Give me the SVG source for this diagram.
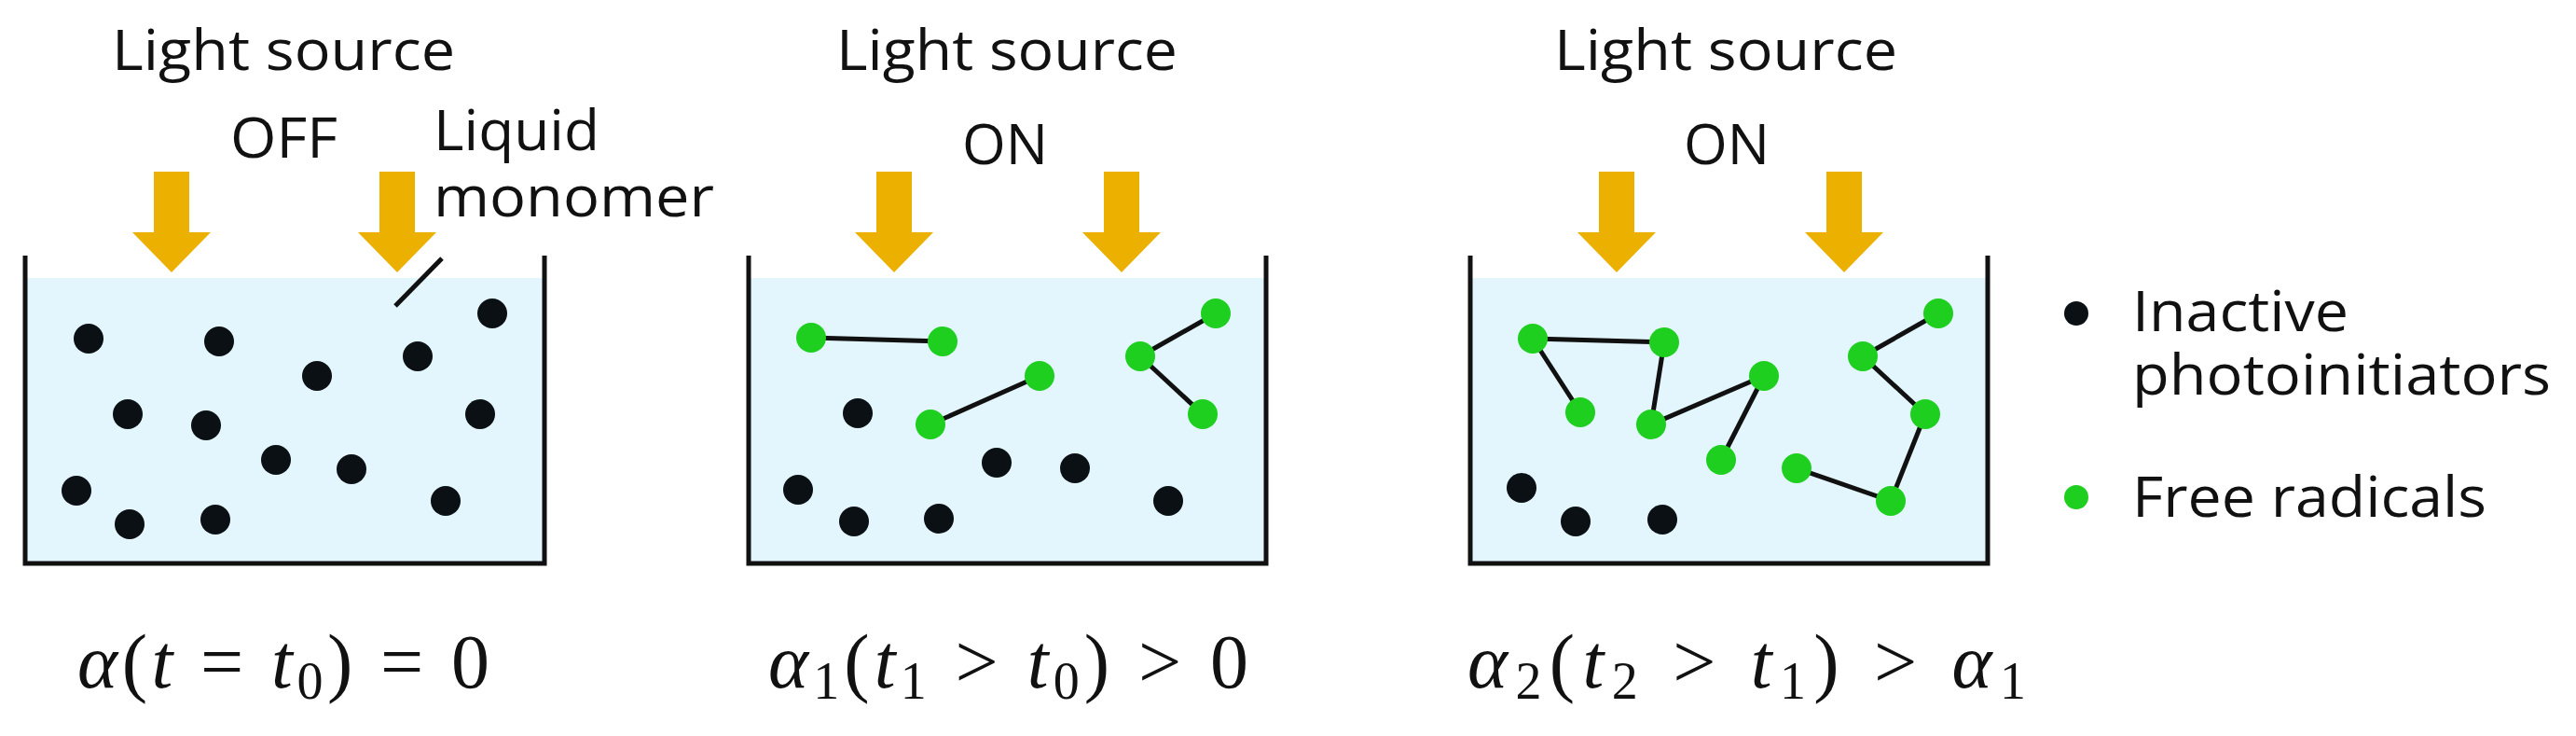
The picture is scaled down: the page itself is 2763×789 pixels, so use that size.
<svg xmlns="http://www.w3.org/2000/svg" width="2763" height="789" viewBox="0 0 2763 789">
<style>
.lbl{font-family:"Open Sans","Liberation Sans",sans-serif;font-size:60px;fill:#111}
.math{font-family:"Liberation Serif","DejaVu Serif",serif;font-size:82px;fill:#111}
.it{font-style:italic}
.sub{font-size:56px}
.liq{fill:#e3f6fd}
.wall{fill:none;stroke:#111;stroke-width:5}
.arr{fill:#ebb000}
.blk{fill:#0b1014}
.grn{fill:#1fcf1f}
.bond{stroke:#111;stroke-width:5}
</style>
<defs>
<path id="arrow" d="M-19,-108 H19 V-43 H42 L0,0 L-42,-43 H-19 Z"/>
<circle id="bd" r="16"/>
</defs>
<g id="panel1">
<rect class="liq" x="28" y="298" width="555" height="306"/>
<path class="wall" d="M27,274 V604 H584 V274"/>
<use href="#arrow" class="arr" x="184" y="292"/>
<use href="#arrow" class="arr" x="426" y="292"/>
<text class="lbl" x="120" y="75" textLength="368" lengthAdjust="spacingAndGlyphs">Light source</text>
<text class="lbl" x="247" y="169" textLength="115" lengthAdjust="spacingAndGlyphs">OFF</text>
<text class="lbl" x="465" y="161" textLength="178" lengthAdjust="spacingAndGlyphs">Liquid</text>
<text class="lbl" x="465" y="232" textLength="301" lengthAdjust="spacingAndGlyphs">monomer</text>
<line class="bond" x1="474" y1="277" x2="424" y2="328"/>
<g class="blk">
<use href="#bd" x="95" y="363"/><use href="#bd" x="235" y="366"/><use href="#bd" x="340" y="403"/><use href="#bd" x="448" y="382"/><use href="#bd" x="528" y="336"/>
<use href="#bd" x="137" y="444"/><use href="#bd" x="221" y="456"/><use href="#bd" x="515" y="444"/><use href="#bd" x="296" y="493"/><use href="#bd" x="377" y="503"/>
<use href="#bd" x="82" y="526"/><use href="#bd" x="139" y="562"/><use href="#bd" x="231" y="557"/><use href="#bd" x="478" y="537"/>
</g>
<text class="math" x="83" y="737" textLength="442"><tspan class="it">α</tspan>(<tspan class="it">t</tspan> = <tspan class="it">t</tspan><tspan class="sub" dy="12">0</tspan><tspan dy="-12">) = 0</tspan></text>
</g>
<g id="panel2">
<rect class="liq" x="805" y="298" width="551" height="306"/>
<path class="wall" d="M803,274 V604 H1358 V274"/>
<use href="#arrow" class="arr" x="959" y="292"/>
<use href="#arrow" class="arr" x="1203" y="292"/>
<text class="lbl" x="897" y="75" textLength="366" lengthAdjust="spacingAndGlyphs">Light source</text>
<text class="lbl" x="1032" y="176" textLength="92" lengthAdjust="spacingAndGlyphs">ON</text>
<g class="blk">
<use href="#bd" x="920" y="443"/><use href="#bd" x="1069" y="496"/><use href="#bd" x="1153" y="502"/><use href="#bd" x="1253" y="537"/>
<use href="#bd" x="916" y="559"/><use href="#bd" x="1007" y="556"/><use href="#bd" x="856" y="525"/>
</g>
<text class="math" x="824" y="737" textLength="515"><tspan class="it">α</tspan><tspan class="sub" dy="12">1</tspan><tspan dy="-12">(</tspan><tspan class="it">t</tspan><tspan class="sub" dy="12">1</tspan><tspan dy="-12"> &gt; </tspan><tspan class="it">t</tspan><tspan class="sub" dy="12">0</tspan><tspan dy="-12">) &gt; 0</tspan></text>
</g>
<g id="panel3">
<rect class="liq" x="1579" y="298" width="551" height="306"/>
<path class="wall" d="M1577,274 V604 H2132 V274"/>
<use href="#arrow" class="arr" x="1734" y="292"/>
<use href="#arrow" class="arr" x="1978" y="292"/>
<text class="lbl" x="1667" y="75" textLength="368" lengthAdjust="spacingAndGlyphs">Light source</text>
<text class="lbl" x="1806" y="176" textLength="92" lengthAdjust="spacingAndGlyphs">ON</text>
<g class="blk">
<use href="#bd" x="1632" y="523"/><use href="#bd" x="1690" y="559"/><use href="#bd" x="1783" y="557"/>
</g>
<text class="math" x="1574" y="737" textLength="599"><tspan class="it">α</tspan><tspan class="sub" dy="12">2</tspan><tspan dy="-12">(</tspan><tspan class="it">t</tspan><tspan class="sub" dy="12">2</tspan><tspan dy="-12"> &gt; </tspan><tspan class="it">t</tspan><tspan class="sub" dy="12">1</tspan><tspan dy="-12">) &gt; </tspan><tspan class="it">α</tspan><tspan class="sub" dy="12">1</tspan></text>
</g>
<g id="connectors">
<g class="bond">
<line x1="870" y1="362" x2="1011" y2="366"/><line x1="998" y1="455" x2="1115" y2="403"/>
<line x1="1223" y1="382" x2="1304" y2="336"/><line x1="1223" y1="382" x2="1290" y2="444"/>
<line x1="1644" y1="363" x2="1785" y2="367"/><line x1="1644" y1="363" x2="1695" y2="442"/>
<line x1="1785" y1="367" x2="1771" y2="455"/><line x1="1771" y1="455" x2="1892" y2="403"/>
<line x1="1892" y1="403" x2="1846" y2="493"/><line x1="1998" y1="382" x2="2079" y2="336"/>
<line x1="1998" y1="382" x2="2065" y2="444"/><line x1="2065" y1="444" x2="2028" y2="537"/>
<line x1="2028" y1="537" x2="1927" y2="502"/>
</g>
</g>
<g id="radicals" class="grn">
<use href="#bd" x="870" y="362"/><use href="#bd" x="1011" y="366"/><use href="#bd" x="1115" y="403"/><use href="#bd" x="998" y="455"/>
<use href="#bd" x="1304" y="336"/><use href="#bd" x="1223" y="382"/><use href="#bd" x="1290" y="444"/>
<use href="#bd" x="1644" y="363"/><use href="#bd" x="1785" y="367"/><use href="#bd" x="1695" y="442"/><use href="#bd" x="1771" y="455"/>
<use href="#bd" x="1892" y="403"/><use href="#bd" x="1846" y="493"/><use href="#bd" x="1998" y="382"/><use href="#bd" x="2079" y="336"/>
<use href="#bd" x="2065" y="444"/><use href="#bd" x="1927" y="502"/><use href="#bd" x="2028" y="537"/>
</g>
<g id="legend">
<circle class="blk" cx="2227" cy="336" r="13"/>
<circle class="grn" cx="2227" cy="533" r="13"/>
<text class="lbl" x="2287" y="355" textLength="232" lengthAdjust="spacingAndGlyphs">Inactive</text>
<text class="lbl" x="2287" y="423" textLength="449" lengthAdjust="spacingAndGlyphs">photoinitiators</text>
<text class="lbl" x="2287" y="554" textLength="380" lengthAdjust="spacingAndGlyphs">Free radicals</text>
</g>
</svg>
